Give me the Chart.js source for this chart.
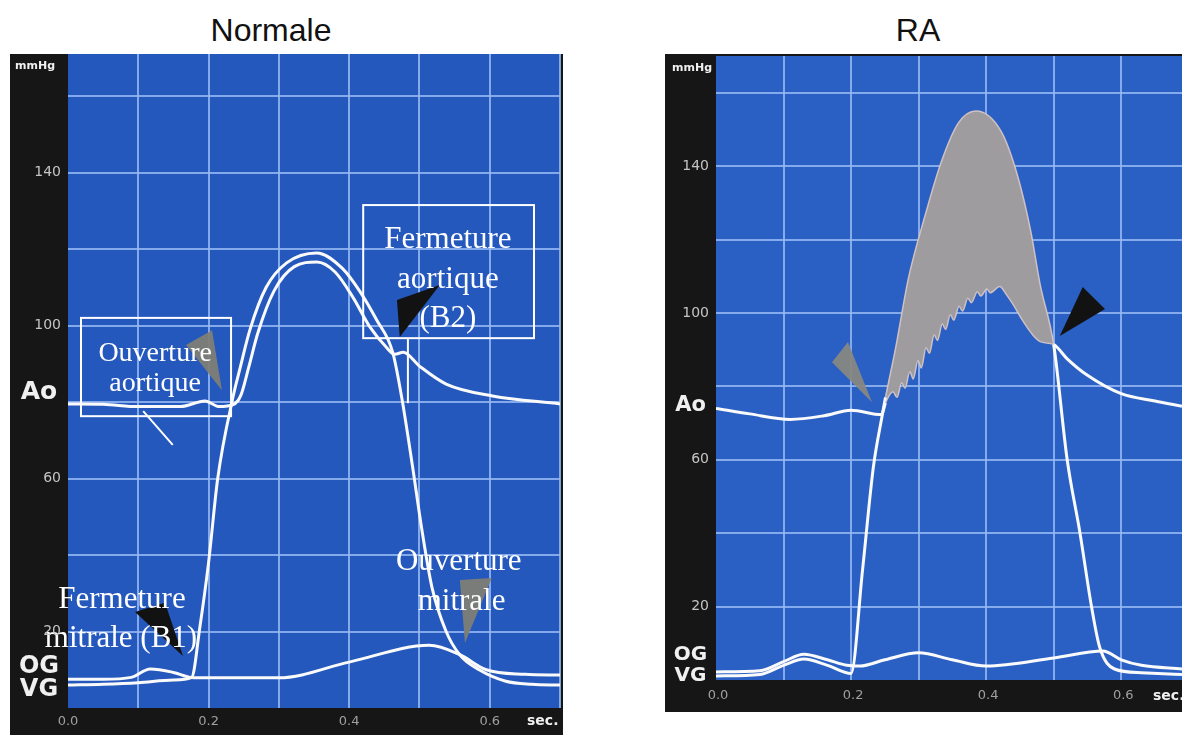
<!DOCTYPE html>
<html>
<head>
<meta charset="utf-8">
<script src="https://cdn.jsdelivr.net/npm/chart.js@4.4.1/dist/chart.umd.min.js"></script>
<style>
  body { margin: 0; background: #fff; width: 1182px; height: 735px; overflow: hidden; position: relative; }
  .title { position: absolute; top: 12px; font-family: "Liberation Sans", Arial, sans-serif; font-size: 32px; color: #111; transform: translateX(-50%); white-space: nowrap; }
  #normTitle { left: 271px; }
  #raTitle { left: 918px; }
  #normCanvas { position: absolute; left: 10px; top: 54px; }
  #raCanvas { position: absolute; left: 665px; top: 54px; }
</style>
</head>
<body>
<div class="title" id="normTitle">Normale</div>
<div class="title" id="raTitle">RA</div>
<canvas id="normCanvas" width="553" height="681"></canvas>
<canvas id="raCanvas" width="517" height="658"></canvas>

<script>
/* ---------------- Data : Normale ---------------- */
// VG = ventricule gauche, Ao = aorte, OG = oreillette gauche (mmHg vs sec.)
const normVgT = [0, 0.05, 0.1, 0.15, 0.176, 0.1875, 0.2, 0.213, 0.235, 0.245, 0.259, 0.282, 0.311, 0.354, 0.39, 0.415, 0.439, 0.462, 0.475, 0.49, 0.504, 0.518, 0.538, 0.557, 0.585, 0.623, 0.66, 0.7];
const normVgP = [6, 6.2, 6.6, 7.3, 8, 21, 38, 60, 81.5, 89, 99, 110, 116.4, 119, 115, 109, 101.5, 93, 81, 63.4, 46, 31.4, 20, 14, 10, 7, 6.2, 6];

const normAoT = [0, 0.05, 0.1, 0.16, 0.195, 0.215, 0.235, 0.246, 0.257, 0.27, 0.293, 0.322, 0.354, 0.38, 0.405, 0.43, 0.452, 0.465, 0.477, 0.5, 0.538, 0.604, 0.7];
const normAoP = [79.5, 79.4, 78.8, 78.8, 80.3, 78.8, 79.3, 81.8, 89, 98, 109, 115.4, 116.6, 114, 107.5, 99.5, 94.5, 92.5, 93, 89.4, 84.7, 81.6, 79.5];

const normOgT = [0, 0.05, 0.09, 0.117, 0.15, 0.175, 0.2, 0.3, 0.4, 0.514, 0.557, 0.595, 0.65, 0.7];
const normOgP = [7.5, 7.5, 8, 10.2, 9.3, 8, 7.9, 7.9, 12, 16.4, 14, 10, 8.8, 8.6];

/* ---------------- Data : RA ---------------- */
const raVgT = [0, 0.065, 0.1, 0.13, 0.165, 0.2, 0.217, 0.233, 0.246, 0.251, 0.266, 0.285, 0.31, 0.334, 0.359, 0.385, 0.422, 0.446, 0.466, 0.48, 0.5, 0.52, 0.539, 0.556, 0.568, 0.59, 0.63, 0.69];
const raVgP = [1.1, 1.5, 4, 5.7, 4, 1.8, 30, 58, 72, 77, 90.5, 109.5, 126.8, 141.4, 151.8, 155, 149.5, 137.7, 122.3, 107.7, 91.4, 60, 40, 20, 9, 3, 2, 1.5];

const raAoT = [0, 0.05, 0.11, 0.16, 0.2, 0.245, 0.251, 0.262, 0.268, 0.275, 0.28, 0.287, 0.292, 0.299, 0.304, 0.311, 0.316, 0.323, 0.328, 0.335, 0.34, 0.347, 0.352, 0.36, 0.365, 0.373, 0.378, 0.387, 0.392, 0.401, 0.406, 0.42, 0.43, 0.441, 0.452, 0.461, 0.47, 0.48, 0.5, 0.52, 0.55, 0.6, 0.65, 0.69];
const raAoP = [74, 72.5, 71, 72, 73.5, 72.3, 75.5, 78.5, 77, 81, 79.5, 84, 82, 87, 85, 90.5, 89, 94, 92.5, 97, 95.5, 99.5, 98, 101.8, 100.5, 104, 102.8, 105.8, 104.6, 106.5, 105.5, 107.2, 105, 102, 98.5, 96, 93.8, 92.2, 91.4, 87.5, 83, 78, 76, 74.6];

const raOgT = [0, 0.065, 0.1, 0.13, 0.165, 0.194, 0.213, 0.25, 0.3, 0.35, 0.4, 0.5, 0.573, 0.6, 0.63, 0.69];
const raOgP = [2.2, 2.5, 5, 7, 5.5, 4, 3.8, 5.5, 7.4, 5.5, 3.8, 6, 7.9, 5.5, 4, 3];

/* ---------------- Axis labels ---------------- */
const yTickLabels = [140, 100, 60, 20];
const xTickLabels = [0, 0.2, 0.4, 0.6];

/* ---------------- Annotations (data coords) ---------------- */
const normNotes = [
  { type: 'tri', color: 'rgba(128,126,118,0.95)', pts: [[0.168, 94.9], [0.205, 98.8], [0.219, 83.1]] },
  { type: 'tri', color: '#121212', pts: [[0.472, 97], [0.468, 106.7], [0.529, 110.6]] },
  { type: 'tri', color: '#121212', pts: [[0.0953, 25.1], [0.138, 27.5], [0.1636, 13.6]] },
  { type: 'tri', color: 'rgba(128,126,118,0.95)', pts: [[0.5576, 33.5], [0.603, 34], [0.5647, 17]] },
  { type: 'box', from: [0.0185, 102], to: [0.232, 76.3] },
  { type: 'line', from: [0.107, 77.6], to: [0.149, 68.8] },
  { type: 'box', from: [0.42, 131.5], to: [0.663, 96.7] },
  { type: 'line', from: [0.4836, 96.7], to: [0.4836, 79.7] },
  { type: 'text', size: 28, at: [0.124, 90.7], text: 'Ouverture' },
  { type: 'text', size: 28, at: [0.124, 82.9], text: 'aortique' },
  { type: 'text', size: 31, at: [0.5405, 120.3], text: 'Fermeture' },
  { type: 'text', size: 31, at: [0.5405, 109.8], text: 'aortique' },
  { type: 'text', size: 31, at: [0.5405, 99.6], text: '(B2)' },
  { type: 'text', size: 31, at: [0.0768, 26.1], text: 'Fermeture' },
  { type: 'text', size: 31, at: [0.0754, 15.9], text: 'mitrale (B1)' },
  { type: 'text', size: 31, at: [0.556, 36.1], text: 'Ouverture' },
  { type: 'text', size: 31, at: [0.56, 25.6], text: 'mitrale' }
];
const raNotes = [
  { type: 'tri', color: 'rgba(135,135,130,0.95)', pts: [[0.1718, 86.6], [0.1954, 92.1], [0.231, 75.7]] },
  { type: 'tri', color: '#121212', pts: [[0.509, 93.7], [0.543, 107.1], [0.576, 101.1]] }
];

function toPoints(ts, ps) {
  return ts.map((t, i) => ({ x: t, y: ps[i] }));
}

/* ---------------- Plugins ---------------- */
function bgPlugin(blue) {
  return {
    id: 'panelBg',
    beforeDraw(chart) {
      const { ctx, chartArea: a } = chart;
      ctx.save();
      ctx.fillStyle = '#161616';
      ctx.fillRect(0, 0, chart.width, chart.height);
      ctx.fillStyle = blue;
      ctx.fillRect(a.left, a.top, a.right - a.left, a.bottom - a.top);
      ctx.restore();
    }
  };
}

// tick labels, unit and curve names drawn in the black margins
function labelPlugin(cfg) {
  return {
    id: 'panelText',
    afterDraw(chart) {
      const { ctx, chartArea: a, scales: { x, y } } = chart;
      ctx.save();
      ctx.textBaseline = 'middle';

      ctx.fillStyle = '#c4c4c4';
      ctx.font = '14px "DejaVu Sans"';
      ctx.textAlign = 'right';
      yTickLabels.forEach(v => ctx.fillText(String(v), a.left - 7, y.getPixelForValue(v)));

      ctx.fillStyle = '#a0a0a0';
      ctx.font = '13px "DejaVu Sans"';
      ctx.textAlign = 'center';
      const xLabelY = (a.bottom + chart.height) / 2;
      xTickLabels.forEach(v => ctx.fillText(v.toFixed(1), x.getPixelForValue(v) + cfg.xLabelShift, xLabelY));

      ctx.fillStyle = '#f0f0f0';
      ctx.font = 'bold 11px "DejaVu Sans"';
      ctx.textAlign = cfg.unitAlign;
      ctx.fillText('mmHg', cfg.unitX, a.top + 12);

      ctx.textAlign = 'center';
      cfg.names.forEach(n => {
        ctx.font = 'bold ' + n.size + 'px "DejaVu Sans"';
        ctx.fillText(n.text, a.left / 2, y.getPixelForValue(n.v));
      });

      ctx.textAlign = 'left';
      ctx.font = 'bold 14px "DejaVu Sans"';
      ctx.fillText('sec.', a.right - cfg.secOffset, xLabelY);
      ctx.restore();
    }
  };
}

function notesPlugin(items) {
  return {
    id: 'notes',
    afterDatasetsDraw(chart) {
      const { ctx, scales: { x, y } } = chart;
      const px = p => [x.getPixelForValue(p[0]), y.getPixelForValue(p[1])];
      ctx.save();
      items.forEach(it => {
        if (it.type === 'tri') {
          ctx.fillStyle = it.color;
          ctx.beginPath();
          it.pts.forEach((p, i) => {
            const [qx, qy] = px(p);
            if (i === 0) ctx.moveTo(qx, qy); else ctx.lineTo(qx, qy);
          });
          ctx.closePath();
          ctx.fill();
        } else if (it.type === 'box') {
          const [x0, y0] = px(it.from);
          const [x1, y1] = px(it.to);
          ctx.strokeStyle = '#ffffff';
          ctx.lineWidth = 2;
          ctx.strokeRect(x0, y0, x1 - x0, y1 - y0);
        } else if (it.type === 'line') {
          const [x0, y0] = px(it.from);
          const [x1, y1] = px(it.to);
          ctx.strokeStyle = '#ffffff';
          ctx.lineWidth = 2;
          ctx.beginPath();
          ctx.moveTo(x0, y0);
          ctx.lineTo(x1, y1);
          ctx.stroke();
        } else if (it.type === 'text') {
          const [tx, ty] = px(it.at);
          ctx.fillStyle = '#ffffff';
          ctx.font = it.size + 'px "Liberation Serif", "Times New Roman", serif';
          ctx.textAlign = 'center';
          ctx.textBaseline = 'alphabetic';
          ctx.fillText(it.text, tx, ty);
        }
      });
      ctx.restore();
    }
  };
}

/* ---------------- Options ---------------- */
const gridColor = 'rgba(150,185,245,0.85)';

function panelOptions(cfg) {
  return {
    responsive: false,
    animation: false,
    events: [],
    layout: { padding: cfg.padding },
    plugins: { legend: { display: false }, tooltip: { enabled: false } },
    elements: {
      point: { radius: 0 },
      line: { borderColor: '#fafafa', borderWidth: 3, cubicInterpolationMode: 'monotone', fill: false }
    },
    scales: {
      x: {
        type: 'linear', min: 0, max: cfg.xMax,
        afterFit: s => { s.height = cfg.xAxisH; },
        border: { display: false },
        grid: {
          drawTicks: false, lineWidth: 2,
          color: c => (Math.round(c.tick.value * 10) === 0 ? 'rgba(0,0,0,0)' : gridColor)
        },
        ticks: { display: false, stepSize: 0.1, includeBounds: false }
      },
      y: {
        min: 0, max: cfg.yMax,
        afterFit: s => { s.width = cfg.yAxisW; },
        border: { display: false },
        grid: {
          drawTicks: false, lineWidth: 2,
          color: c => (c.tick.value === 0 ? 'rgba(0,0,0,0)' : gridColor)
        },
        ticks: { display: false, stepSize: 20, includeBounds: false }
      }
    }
  };
}

/* ---------------- Chart : Normale ---------------- */
new Chart(document.getElementById('normCanvas'), {
  type: 'line',
  data: {
    datasets: [
      { label: 'VG', data: toPoints(normVgT, normVgP) },
      { label: 'Ao', data: toPoints(normAoT, normAoP) },
      { label: 'OG', data: toPoints(normOgT, normOgP) }
    ]
  },
  options: panelOptions({ padding: { left: 0, top: 0, right: 3, bottom: 0 }, xMax: 0.7, yMax: 171, xAxisH: 27, yAxisW: 58 }),
  plugins: [
    bgPlugin('#2458bd'),
    labelPlugin({
      unitAlign: 'left', unitX: 5, secOffset: 33, xLabelShift: 0,
      names: [{ text: 'Ao', v: 82.4, size: 25 }, { text: 'OG', v: 10.9, size: 24 }, { text: 'VG', v: 4.8, size: 24 }]
    }),
    notesPlugin(normNotes)
  ]
});

/* ---------------- Chart : RA ---------------- */
const inEjection = c => c.p0.parsed.x >= 0.25 && c.p1.parsed.x <= 0.501;

new Chart(document.getElementById('raCanvas'), {
  type: 'line',
  data: {
    datasets: [
      {
        label: 'Ao', data: toPoints(raAoT, raAoP),
        segment: {
          borderColor: c => (inEjection(c) ? 'rgba(214,196,196,0.95)' : undefined),
          borderWidth: c => (inEjection(c) ? 1.5 : undefined)
        }
      },
      {
        label: 'VG', data: toPoints(raVgT, raVgP),
        fill: { target: 0, above: 'rgba(158,156,158,1)', below: 'rgba(0,0,0,0)' },
        segment: {
          borderColor: c => (inEjection(c) ? 'rgba(214,196,196,0.95)' : undefined),
          borderWidth: c => (inEjection(c) ? 1.5 : undefined)
        }
      },
      { label: 'OG', data: toPoints(raOgT, raOgP) }
    ]
  },
  options: panelOptions({ padding: { left: 0, top: 2, right: 0, bottom: 0 }, xMax: 0.69, yMax: 170, xAxisH: 32, yAxisW: 51 }),
  plugins: [
    bgPlugin('#2a60c4'),
    labelPlugin({
      unitAlign: 'right', unitX: 47, secOffset: 29, xLabelShift: 2,
      names: [{ text: 'Ao', v: 74.9, size: 21 }, { text: 'OG', v: 6.8, size: 20 }, { text: 'VG', v: 1.2, size: 20 }]
    }),
    notesPlugin(raNotes)
  ]
});
</script>
</body>
</html>
